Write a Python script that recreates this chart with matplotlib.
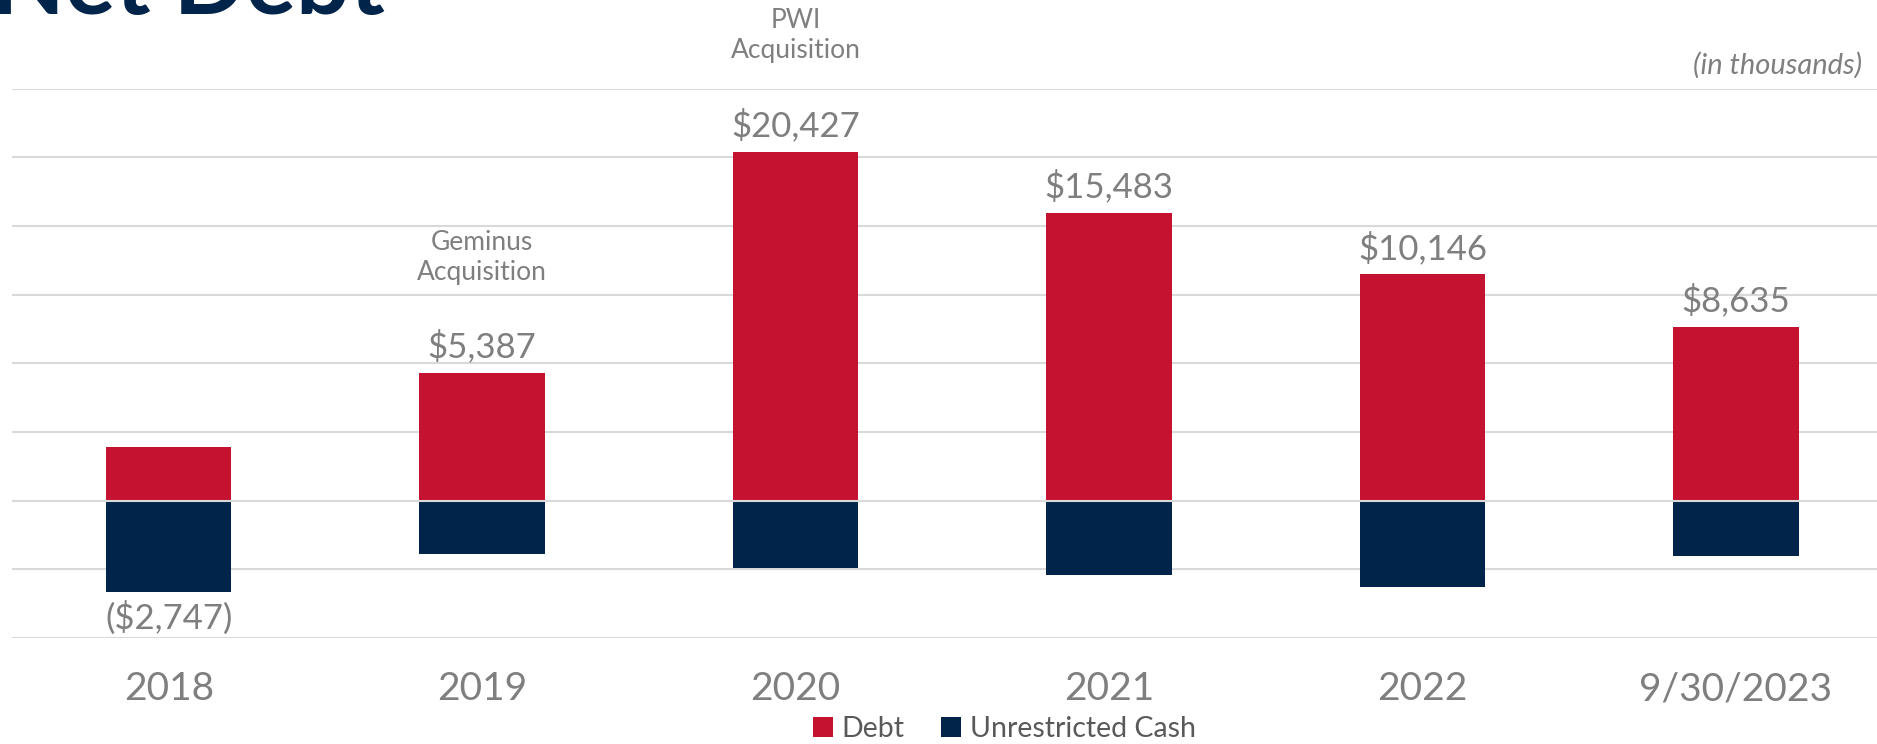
import matplotlib.pyplot as plt
import numpy as np

years = ['2018', '2019', '2020', '2021', '2022', '9/30/2023']
debt = [3920, 9290, 25357, 20933, 16466, 12635]
cash = [6667, 3903, 4930, 5450, 6320, 4000]
net_labels = ['($2,747)', '$5,387', '$20,427', '$15,483', '$10,146', '$8,635']

red = '#C41230'
navy = '#00244A'
grey = '#7F7F7F'

plt.rcParams['font.family'] = ['Lato', 'DejaVu Sans']

fig = plt.figure(figsize=(18.77, 7.44), dpi=100)
ax = fig.add_axes([0.0064, 0.1425, 0.9936, 0.7385])

x = np.arange(len(years))
net = np.array(debt) - np.array(cash)

ax.bar(x, debt, width=0.4, color=red, label='Debt', zorder=2)
ax.bar(x, [-c for c in cash], width=0.4, color=navy, label='Unrestricted Cash', zorder=2)
ax.axhline(0, color='#D9D9D9', lw=1.5, zorder=3)

for i in range(len(years)):
    if net[i] < 0:
        ax.text(x[i], -cash[i] - 600, net_labels[i], ha='center', va='top',
                fontsize=25, color=grey)
    else:
        ax.text(x[i], debt[i] + 700, net_labels[i], ha='center', va='bottom',
                fontsize=25, color=grey)

ax.text(1, 17700, 'Geminus\nAcquisition', ha='center', va='center',
        fontsize=19, color=grey, linespacing=1.25)
ax.text(2, 33850, 'PWI\nAcquisition', ha='center', va='center',
        fontsize=19, color=grey, linespacing=1.25, clip_on=False)
ax.text(0.992, 31700, '(in thousands)', transform=ax.get_yaxis_transform(),
        ha='right', va='center', fontsize=21, color=grey, style='italic',
        clip_on=False)

ax.set_ylim(-10000, 30000)
ax.set_xlim(-0.5, 5.45)
ax.set_yticks(np.arange(-10000, 30001, 5000))
ax.yaxis.grid(True, color='#D9D9D9', lw=1.5, zorder=0)
ax.set_axisbelow(True)
ax.tick_params(axis='y', left=False, labelleft=False)
ax.set_xticks(x)
ax.set_xticklabels(years, fontsize=28, color=grey)
ax.tick_params(axis='x', length=0, pad=24)
for s in ax.spines.values():
    s.set_visible(False)

fig.text(-0.004, 0.981, 'Net Debt', fontsize=68, fontweight='bold', color=navy,
         ha='left', va='baseline')

fig.legend(loc='center', bbox_to_anchor=(0.535, 0.02), ncol=2, frameon=False,
           fontsize=20.5, labelcolor='#595959', handlelength=0.7, handleheight=0.7,
           handletextpad=0.3, columnspacing=1.3)

fig.savefig('out.png', dpi=100)
